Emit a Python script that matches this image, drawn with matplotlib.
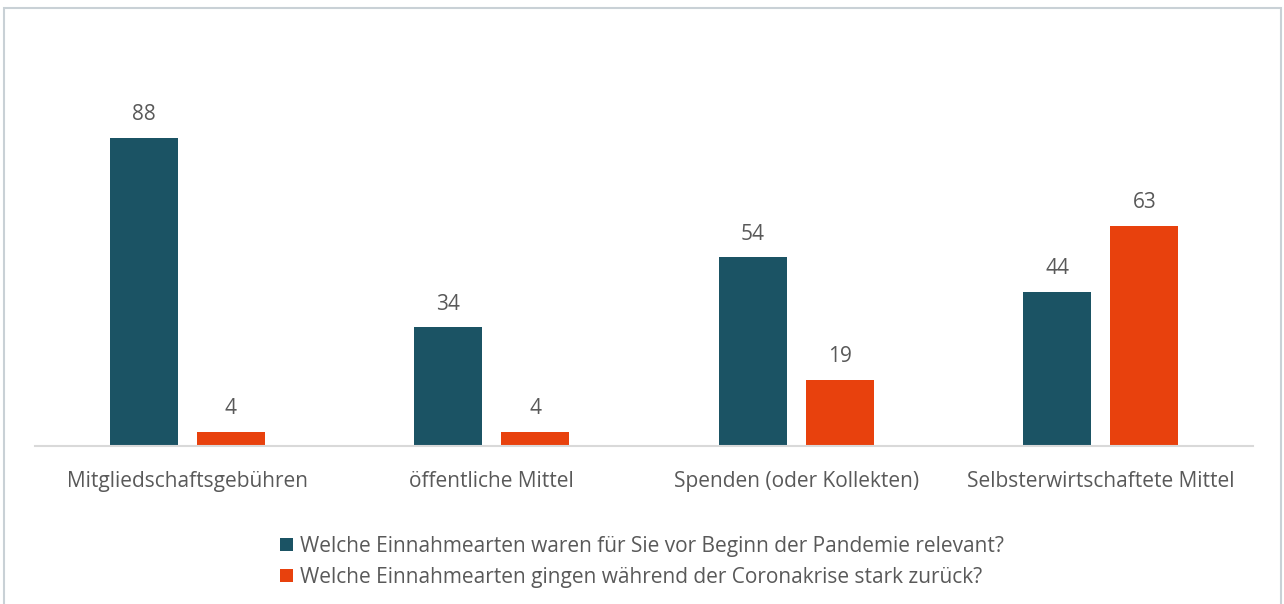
import matplotlib.pyplot as plt
import numpy as np
from matplotlib.patches import Rectangle

categories = ['Mitgliedschaftsgebühren', 'öffentliche Mittel', 'Spenden (oder Kollekten)', 'Selbsterwirtschaftete Mittel']
vor_pandemie = [88, 34, 54, 44]
corona_rueckgang = [4, 4, 19, 63]
series_names = ['Welche Einnahmearten waren für Sie vor Beginn der Pandemie relevant?',
                'Welche Einnahmearten gingen während der Coronakrise stark zurück?']

teal = '#1B5364'
orange = '#E8410D'
grey_text = '#595959'

plt.rcParams['font.family'] = ['Open Sans', 'DejaVu Sans']

fig = plt.figure(figsize=(12.84, 6.04), dpi=100)
ax = fig.add_axes([35 / 1284, 158 / 604, 1218 / 1284, 350 / 604])

x = np.arange(len(categories))
w = 0.223
off = 0.143
b1 = ax.bar(x - off, vor_pandemie, w, color=teal, label=series_names[0])
b2 = ax.bar(x + off, corona_rueckgang, w, color=orange, label=series_names[1])

for bars in (b1, b2):
    for rect in bars:
        h = rect.get_height()
        ax.annotate(f'{h:.0f}', (rect.get_x() + rect.get_width() / 2, h),
                    xytext=(0, 9), textcoords='offset points',
                    ha='center', va='bottom', fontsize=15, color=grey_text)

ax.set_xlim(-0.5, 3.5)
ax.set_ylim(0, 100)
ax.set_xticks(x)
ax.set_xticklabels(categories, fontsize=15, color=grey_text)
ax.tick_params(axis='x', length=0, pad=18)
ax.set_yticks([])
for s in ['top', 'right', 'left']:
    ax.spines[s].set_visible(False)
ax.spines['bottom'].set_color('#D9D9D9')
ax.spines['bottom'].set_linewidth(1.5)

fig.legend(handles=[b1, b2], loc='center', bbox_to_anchor=(0.5, 1 - 562 / 604),
           ncol=1, frameon=False, fontsize=15, labelcolor=grey_text,
           handlelength=0.6, handleheight=0.6, handletextpad=0.35, labelspacing=0.5)

fig.patches.append(Rectangle((4 / 1284, -0.01), 1277 / 1284, 1 - 8 / 604 + 0.01,
                             transform=fig.transFigure, fill=False,
                             edgecolor='#C9D1D6', linewidth=1.5))

fig.savefig('out.png', dpi=100)
